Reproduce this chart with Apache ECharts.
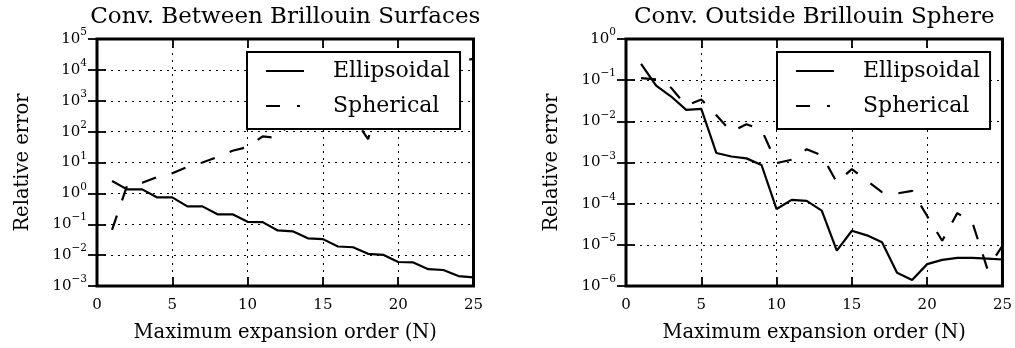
<!DOCTYPE html>
<html>
<head>
<meta charset="utf-8">
<script src="https://cdn.jsdelivr.net/npm/echarts@6/dist/echarts.min.js"></script>
<style>
html,body{margin:0;padding:0;background:#fff;}
#c{width:1015px;height:348px;}
</style>
</head>
<body>
<div id="c"></div>
<script>
// ---- data ----
const orders = [1,2,3,4,5,6,7,8,9,10,11,12,13,14,15,16,17,18,19,20,21,22,23,24,25];
const xTicks = [0,5,10,15,20,25];
const titles = ['Conv. Between Brillouin Surfaces', 'Conv. Outside Brillouin Sphere'];
const seriesNames = ['Ellipsoidal', 'Spherical'];
const leftEllipsoidal = [2.5,1.35,1.35,0.74,0.74,0.38,0.38,0.21,0.21,0.12,0.117,0.063,0.059,0.035,0.033,0.019,0.018,0.011,0.0102,0.006,0.0058,0.0035,0.0033,0.0021,0.0019];
const leftSpherical = [0.066,1.8,2.2,3.4,4.5,7.2,10,15,24,32,70,62,250,400,500,400,300,57,2500,5000,7000,9000,12000,18000,23000];
const rightEllipsoidal = [0.25,0.074,0.04,0.019,0.020,0.0017,0.0014,0.00126,0.00087,7.4e-5,1.24e-4,1.17e-4,6.8e-5,7.2e-6,2.2e-5,1.7e-5,1.15e-5,2.1e-6,1.4e-6,3.4e-6,4.3e-6,4.8e-6,4.8e-6,4.6e-6,4.4e-6];
const rightSpherical = [0.112,0.105,0.065,0.024,0.034,0.014,0.0056,0.0085,0.0063,9.7e-4,1.17e-3,2.1e-3,1.5e-3,3.3e-4,6.9e-4,3.6e-4,1.9e-4,1.77e-4,2.05e-4,5e-5,1.26e-5,5.9e-5,3.5e-5,2.6e-6,9.5e-6];
const leftYRange = [1e-3, 1e5];
const rightYRange = [1e-6, 1];
const xLabel = 'Maximum expansion order (N)';
const yLabel = 'Relative error';

// ---- chart ----
const FONT = 'DejaVu Serif';
const chart = echarts.init(document.getElementById('c'), null, {renderer: 'canvas'});

function supLabel(v) {
  const e = Math.round(Math.log10(v));
  return '{b|10}{s|' + (e < 0 ? '\u2212' + (-e) : e) + '}';
}
const richY = {
  b: {fontSize: 15, fontFamily: FONT, color: '#000', lineHeight: 24},
  s: {fontSize: 10.5, fontFamily: FONT, color: '#000', lineHeight: 12, verticalAlign: 'top'}
};
const pair = a => orders.map((x, i) => [x, a[i]]);

const gridDefs = [
  {left: 97, right: 1015 - 473.5, top: 39, bottom: 348 - 286},
  {left: 626, right: 1015 - 1002.5, top: 39, bottom: 348 - 286}
];
const grids = gridDefs.map(g => Object.assign({show: true, borderColor: '#000', borderWidth: 3, backgroundColor: 'transparent'}, g));

const xAxes = [], yAxes = [];
const tickStyle = {show: true, inside: true, length: 9, lineStyle: {color: '#000', width: 1.8}};
[0, 1].forEach(gi => {
  xAxes.push({
    type: 'value', gridIndex: gi, min: xTicks[0], max: xTicks[xTicks.length - 1], interval: 5, position: 'bottom',
    axisLine: {show: false}, axisTick: tickStyle,
    axisLabel: {fontFamily: FONT, fontSize: 15, color: '#000', margin: 12},
    splitLine: {show: true, lineStyle: {color: '#000', type: [2, 5], width: 1}},
    name: xLabel, nameLocation: 'middle', nameGap: 37,
    nameTextStyle: {fontFamily: FONT, fontSize: 19.5, color: '#000'}
  });
  xAxes.push({
    type: 'value', gridIndex: gi, min: xTicks[0], max: xTicks[xTicks.length - 1], interval: 5, position: 'top',
    axisLine: {show: false}, axisTick: tickStyle, axisLabel: {show: false}, splitLine: {show: false}
  });
  const r = gi === 0 ? leftYRange : rightYRange;
  yAxes.push({
    type: 'log', logBase: 10, gridIndex: gi, min: r[0], max: r[1], interval: 1, position: 'left',
    axisLine: {show: false}, axisTick: tickStyle,
    axisLabel: {formatter: supLabel, rich: richY, margin: 10, color: '#000'},
    splitLine: {show: true, lineStyle: {color: '#000', type: [2, 5], width: 1}},
    name: yLabel, nameLocation: 'middle', nameGap: 64,
    nameTextStyle: {fontFamily: FONT, fontSize: 19.5, color: '#000'}
  });
  yAxes.push({
    type: 'log', logBase: 10, gridIndex: gi, min: r[0], max: r[1], interval: 1, position: 'right',
    axisLine: {show: false}, axisTick: tickStyle, axisLabel: {show: false}, splitLine: {show: false}
  });
});

const solid = {color: '#000', width: 2.2, type: 'solid'};
const dashdot = {color: '#000', width: 2.2, type: [15, 16]};
function mkSeries(name, data, gi, ls) {
  return {
    name: name, type: 'line', xAxisIndex: gi * 2, yAxisIndex: gi * 2,
    data: pair(data), symbol: 'none', showSymbol: false, lineStyle: ls,
    itemStyle: {color: '#000'}, animation: false, z: 2
  };
}

function mkLegend(left) {
  return {
    show: true, orient: 'vertical', left: left, top: 52, selectedMode: false,
    itemWidth: 38, itemHeight: 14, itemGap: 13,
    padding: [8, 10, 12, 18],
    backgroundColor: '#fff', borderColor: '#000', borderWidth: 2, borderRadius: 0,
    itemStyle: {opacity: 0, borderWidth: 0},
    textStyle: {fontFamily: FONT, fontSize: 22, color: '#000', lineHeight: 22, padding: [0, 0, 0, 24]},
    data: [
      {name: seriesNames[0]},
      {name: seriesNames[1], lineStyle: {type: [14, 17, 3, 10]}}
    ],
    z: 10
  };
}

chart.setOption({
  animation: false,
  backgroundColor: '#fff',
  title: [
    {text: titles[0], left: (97 + 473.5) / 2, textAlign: 'center', top: 4, padding: 0,
     textStyle: {fontFamily: FONT, fontSize: 23, fontWeight: 'normal', color: '#000', lineHeight: 26}},
    {text: titles[1], left: (626 + 1002.5) / 2, textAlign: 'center', top: 4, padding: 0,
     textStyle: {fontFamily: FONT, fontSize: 23, fontWeight: 'normal', color: '#000', lineHeight: 26}}
  ],
  legend: [mkLegend(247), mkLegend(777)],
  grid: grids,
  xAxis: xAxes,
  yAxis: yAxes,
  series: [
    mkSeries(seriesNames[0], leftEllipsoidal, 0, solid),
    mkSeries(seriesNames[1], leftSpherical, 0, dashdot),
    mkSeries(seriesNames[0], rightEllipsoidal, 1, solid),
    mkSeries(seriesNames[1], rightSpherical, 1, dashdot)
  ]
});
</script>
</body>
</html>
